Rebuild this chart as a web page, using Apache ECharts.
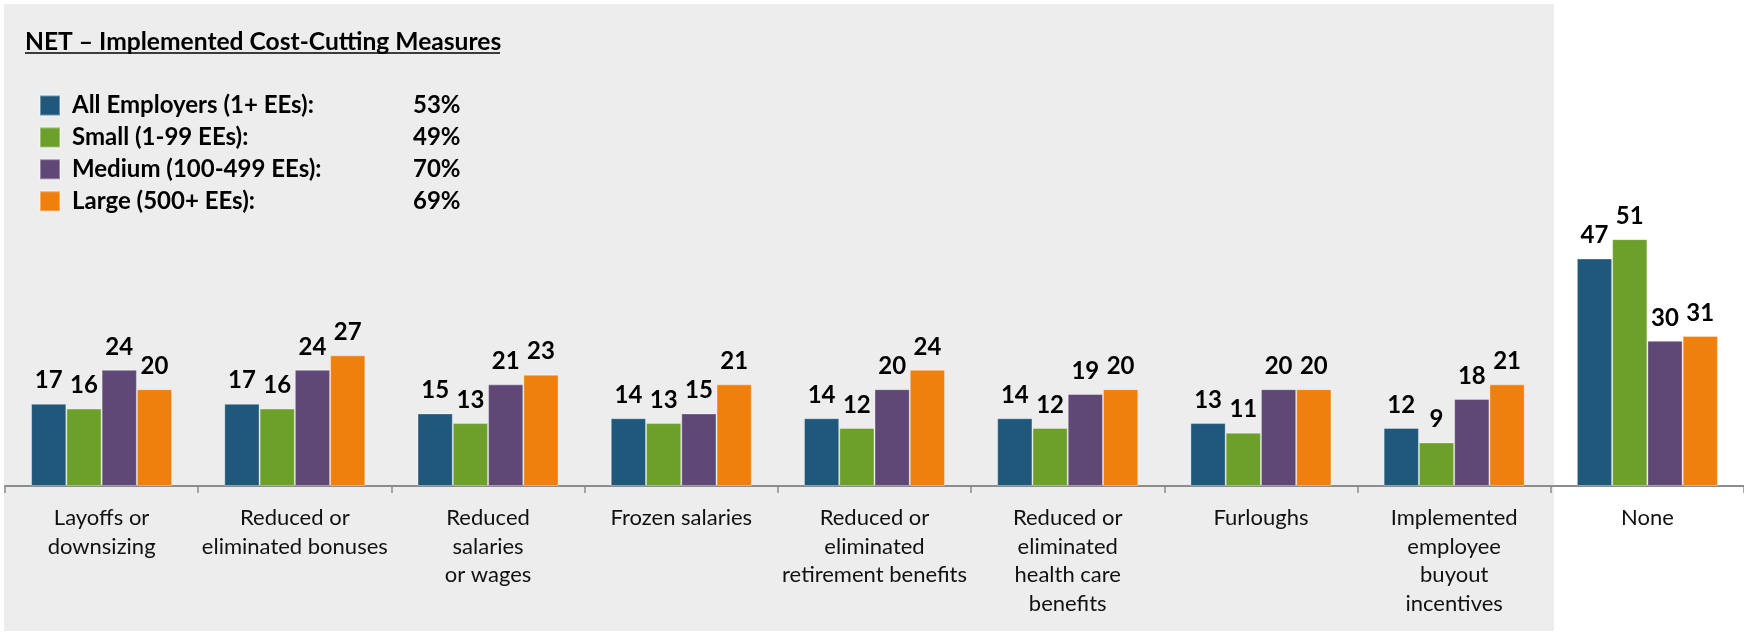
<!DOCTYPE html>
<html>
<head>
<meta charset="utf-8">
<script src="https://cdn.jsdelivr.net/npm/echarts@6/dist/echarts.min.js"></script>
<style>
html,body{margin:0;padding:0;background:#fff;}
#c{width:1744px;height:633px;}
</style>
</head>
<body>
<div id="c"></div>
<script>
const categories = [
  'Layoffs or\ndownsizing',
  'Reduced or\neliminated bonuses',
  'Reduced\nsalaries\nor wages',
  'Frozen salaries',
  'Reduced or\neliminated\nretirement benefits',
  'Reduced or\neliminated\nhealth care\nbenefits',
  'Furloughs',
  'Implemented\nemployee\nbuyout\nincentives',
  'None'
];
const seriesNames = ['All Employers (1+ EEs):', 'Small (1-99 EEs):', 'Medium (100-499 EEs):', 'Large (500+ EEs):'];
const netValues = ['53%', '49%', '70%', '69%'];
const allEmployers = [17, 17, 15, 14, 14, 14, 13, 12, 47];
const small = [16, 16, 13, 13, 12, 12, 11, 9, 51];
const medium = [24, 24, 21, 15, 20, 19, 20, 18, 30];
const large = [20, 27, 23, 21, 24, 20, 20, 21, 31];
const titleText = 'NET \u2013 Implemented Cost-Cutting Measures';

const colors = ['#1F587B', '#6DA02B', '#5F4876', '#F0800E'];
const values = [allEmployers, small, medium, large];
const FONT = 'Lato';

const chart = echarts.init(document.getElementById('c'), null, {renderer: 'canvas'});

const series = seriesNames.map((n, i) => ({
  name: n,
  type: 'bar',
  data: values[i],
  barGap: '0%',
  barCategoryGap: '27%',
  itemStyle: {color: colors[i], borderColor: 'rgba(255,255,255,0.35)', borderWidth: 1},
  label: {
    show: true,
    position: 'top',
    distance: 11,
    color: '#000',
    fontFamily: FONT,
    fontWeight: 'bold',
    fontSize: 24,
    lineHeight: 24
  },
  emphasis: {disabled: true},
  animation: false
}));

const option = {
  backgroundColor: '#ffffff',
  animation: false,
  color: colors,
  graphic: [
    {type: 'rect', z: -10, silent: true, shape: {x: 4, y: 4, width: 1550, height: 627}, style: {fill: '#EDEDED'}},
    {type: 'text', z: 10, left: 25, top: 30, style: {text: titleText, fill: '#000', font: 'bold 24.6px ' + FONT}},
    {type: 'line', z: 10, shape: {x1: 25, y1: 53, x2: 500, y2: 53}, style: {stroke: '#000', lineWidth: 1.6}}
  ],
  legend: {
    orient: 'vertical',
    left: 39,
    top: 93.5,
    padding: 0,
    itemWidth: 20,
    itemHeight: 20,
    itemGap: 7.9,
    icon: 'rect',
    selectedMode: false,
    data: seriesNames,
    formatter: function (name) {
      const idx = seriesNames.indexOf(name);
      return '{n|' + name + '}{p|' + netValues[idx] + '}';
    },
    textStyle: {
      fontFamily: FONT,
      fontWeight: 'bold',
      fontSize: 24,
      lineHeight: 20,
      color: '#000',
      rich: {
        n: {fontFamily: FONT, fontWeight: 'bold', fontSize: 24, color: '#000', width: 341, lineHeight: 20, padding: [0, 0, 0, 7]},
        p: {fontFamily: FONT, fontWeight: 'bold', fontSize: 24, color: '#000', lineHeight: 20}
      }
    }
  },
  grid: {left: 5, top: 2, width: 1741.5, height: 484, containLabel: false},
  xAxis: {
    type: 'category',
    data: categories,
    axisLine: {show: true, lineStyle: {color: '#8C8C8C', width: 2}},
    axisTick: {show: true, length: 7, lineStyle: {color: '#8C8C8C', width: 1.5}},
    axisLabel: {
      interval: 0,
      margin: 18,
      color: '#111',
      fontFamily: FONT,
      fontSize: 22,
      lineHeight: 28.5,
      align: 'center'
    },
    splitLine: {show: false}
  },
  yAxis: {
    type: 'value',
    min: 0,
    max: 100,
    show: false,
    splitLine: {show: false}
  },
  series: series
};
chart.setOption(option);
</script>
</body>
</html>
